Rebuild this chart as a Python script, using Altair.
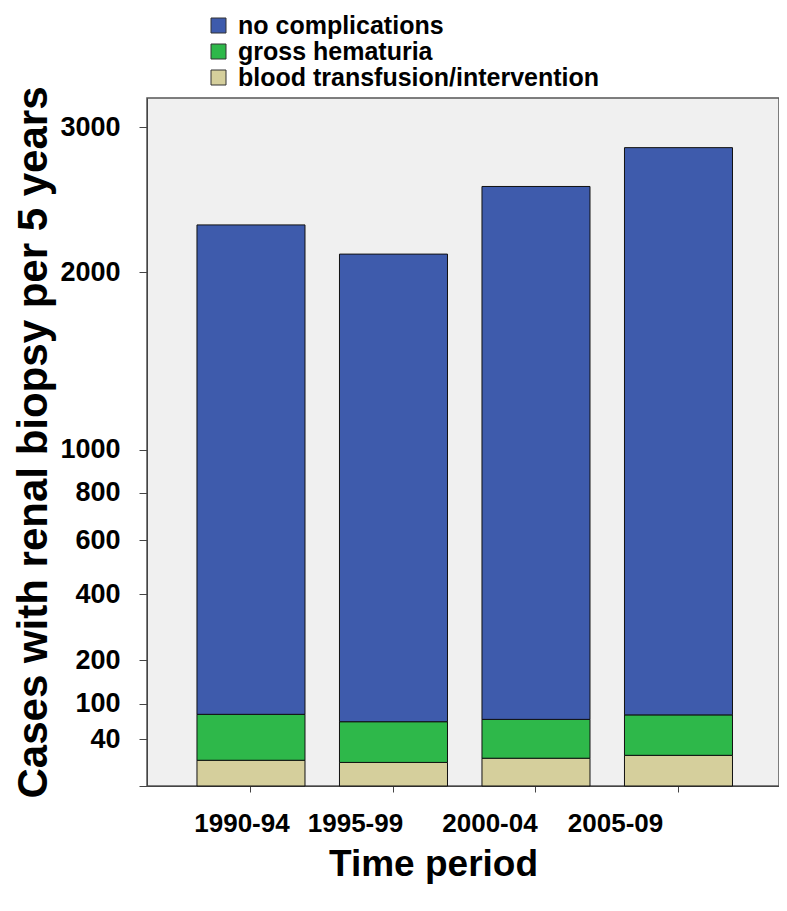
import altair as alt
import pandas as pd

periods = ["1990-94", "1995-99", "2000-04", "2005-09"]
no_complications = [2229, 2049, 2502, 2772]
gross_hematuria = [65, 54, 54, 59]
blood_transfusion = [15, 13, 17, 20]
categories = ["no complications", "gross hematuria", "blood transfusion/intervention"]
colors = ["#3E5BAC", "#2EB84A", "#D5CF9C"]
y_ticks = [0, 40, 100, 200, 400, 600, 800, 1000, 2000, 3000]
x_label_shift = [-9, -38, -46, -63]

rows = []
for i, p in enumerate(periods):
    for cat, vals, order in [
        (categories[2], blood_transfusion, 0),
        (categories[1], gross_hematuria, 1),
        (categories[0], no_complications, 2),
    ]:
        rows.append({"period": p, "category": cat, "cases": vals[i], "stack_order": order})
df = pd.DataFrame(rows)

font = "Liberation Sans"

label_offset = {
    "condition": [
        {"test": f"datum.value == '{p}'", "value": s}
        for p, s in zip(periods[1:], x_label_shift[1:])
    ],
    "value": x_label_shift[0],
}

chart = alt.Chart(df).mark_bar(stroke="#111111", strokeWidth=1).encode(
    x=alt.X(
        "period:N",
        sort=periods,
        scale=alt.Scale(paddingInner=0.242, paddingOuter=0.3385, align=0.518),
        axis=alt.Axis(
            title="Time period",
            labelAngle=0,
            labelFont=font,
            labelFontSize=26,
            labelFontWeight="bold",
            labelColor="black",
            labelPadding=18,
            labelOffset=label_offset,
            tickSize=6,
            tickColor="#444444",
            domainColor="#444444",
            titleFont=font,
            titleFontSize=37,
            titleFontWeight="bold",
            titleColor="black",
            titleX=286,
            titleY=89,
            titleBaseline="alphabetic",
            titleAlign="center",
        ),
    ),
    y=alt.Y(
        "cases:Q",
        stack="zero",
        scale=alt.Scale(type="pow", exponent=0.612, domain=[0, 3222], nice=False),
        axis=alt.Axis(
            values=y_ticks,
            labelExpr="datum.value == 0 ? '' : datum.value",
            grid=False,
            tickSize=8,
            tickColor="#444444",
            domainColor="#444444",
            labelFont=font,
            labelFontSize=27,
            labelFontWeight="bold",
            labelColor="black",
            labelPadding=19,
            title="Cases with renal biopsy per 5 years",
            titleFont=font,
            titleFontSize=42,
            titleFontWeight="bold",
            titleColor="black",
            titleAngle=270,
            titleX=-101,
            titleY=344,
            titleBaseline="alphabetic",
            titleAlign="center",
        ),
    ),
    color=alt.Color(
        "category:N",
        scale=alt.Scale(domain=categories, range=colors),
        legend=alt.Legend(
            title=None,
            orient="none",
            legendX=59,
            legendY=-85,
            symbolType="square",
            symbolSize=225,
            symbolStrokeColor="#333333",
            symbolStrokeWidth=1,
            symbolOpacity=1,
            labelFont=font,
            labelFontSize=25,
            labelFontWeight="bold",
            labelColor="black",
            labelOffset=7,
            labelLimit=0,
            labelBaseline="middle",
            rowPadding=-3,
            padding=0,
        ),
    ),
    order=alt.Order("stack_order:Q", sort="ascending"),
).properties(
    width=632,
    height=688,
    autosize=alt.AutoSizeParams(type="none"),
    padding={"left": 139, "top": 90, "right": 0, "bottom": 117},
).configure_view(
    fill="#F0F0F0", stroke="#555555", strokeWidth=1.5
)

chart.save("out.html", embed_options={"renderer": "svg", "actions": False})
